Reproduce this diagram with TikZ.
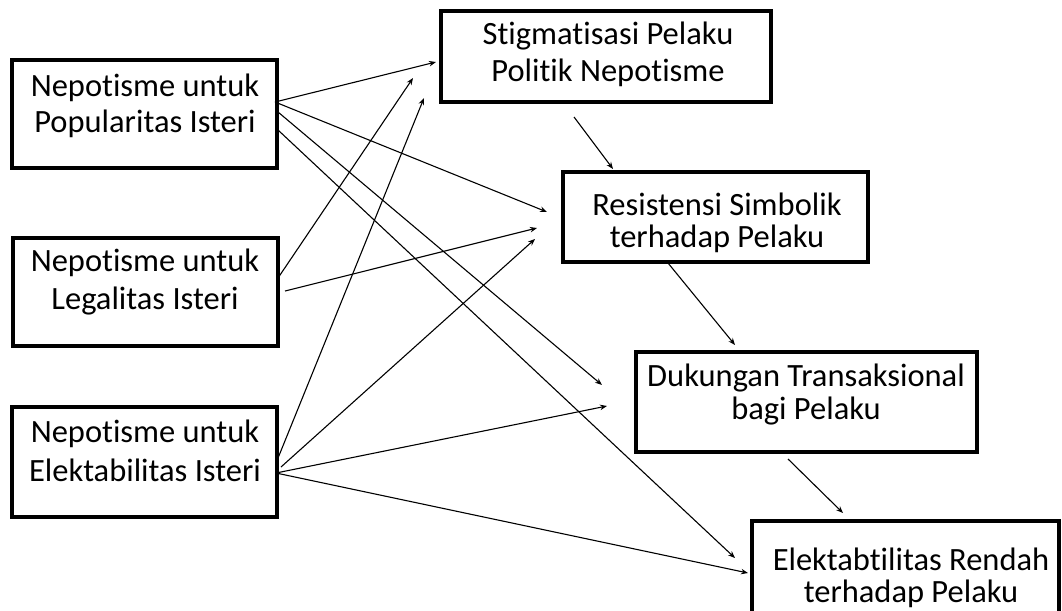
\documentclass[tikz,border=0pt]{standalone}
\usepackage{fontspec}
\setmainfont{Carlito}[Ligatures={NoCommon}]
\usetikzlibrary{arrows.meta}
\begin{document}
\begin{tikzpicture}[x=1pt,y=-1pt,
  box/.style={draw, line width=3.2pt, fill=white, inner sep=0pt},
  txt/.style={align=center, inner sep=0pt},
  fs/.style={font=\fontsize{32.5}{#1}\selectfont},
  arr/.style={-{Stealth[length=7pt,width=5.5pt]}, line width=1.1pt}]
\useasboundingbox (0,0) rectangle (1062,610);
\clip (0,0) rectangle (1062,610);
\fill[white] (0,0) rectangle (1062,610);
% boxes
\node[box, minimum width=265pt, minimum height=108pt] (a) at (144.5,114) {};
\node[box, minimum width=265pt, minimum height=108pt] (b) at (145.5,292) {};
\node[box, minimum width=265pt, minimum height=110pt] (c) at (144.5,462) {};
\node[box, minimum width=330pt, minimum height=91pt] (d) at (606,56.5) {};
\node[box, minimum width=305pt, minimum height=90pt] (e) at (715.5,217) {};
\node[box, minimum width=341pt, minimum height=100pt] (f) at (806.5,402) {};
\node[box, minimum width=307pt, minimum height=130pt] (g) at (905.5,586) {};
% texts
\node[txt, fs=36] (ta) at (145,106) {Nepotisme untuk\\Popularitas Isteri};
\node[txt, fs=38] (tb) at (145,282) {Nepotisme untuk\\Legalitas Isteri};
\node[txt, fs=39] (tc) at (145,450.5) {Nepotisme untuk\\Elektabilitas Isteri};
\node[txt, fs=37] (td) at (608,54.5) {Stigmatisasi Pelaku\\Politik Nepotisme};
\node[txt, fs=32] (te) at (717,223) {Resistensi Simbolik\\terhadap Pelaku};
\node[txt, fs=33] (tf) at (806,394.5) {Dukungan Transaksional\\bagi Pelaku};
\node[txt, fs=32] (tg) at (911,578) {Elektabtilitas Rendah\\terhadap Pelaku};
% start points
\coordinate (a1) at (275,102);
\coordinate (a2) at (278,112);
\coordinate (a3) at (278,130);
\coordinate (b1) at (278,278);
\coordinate (b2) at (285,291);
\coordinate (c1) at (276,463);
\coordinate (c2) at (281,467);
\coordinate (c3) at (276,473);
% end points
\coordinate (dA) at (436,62);
\coordinate (dB) at (413,78);
\coordinate (dC) at (424,98);
\coordinate (eA) at (547,212);
\coordinate (eB) at (537,228);
\coordinate (eC) at (535,239);
\coordinate (fA) at (602,385);
\coordinate (fC) at (607,406);
\coordinate (gA) at (735,558);
\coordinate (gC) at (748,573);
\coordinate (d0) at (574,117);
\coordinate (eD) at (613,169);
\coordinate (e0) at (668,263);
\coordinate (fE) at (735,345);
\coordinate (f0) at (788,459);
\coordinate (gF) at (843,513);
% arrows
\draw[arr] (a1) -- (dA);
\draw[arr] (a1) -- (eA);
\draw[arr] (a2) -- (fA);
\draw[arr] (a3) -- (gA);
\draw[arr] (b1) -- (dB);
\draw[arr] (b2) -- (eB);
\draw[arr] (c1) -- (dC);
\draw[arr] (c2) -- (eC);
\draw[arr] (c3) -- (fC);
\draw[arr] (c3) -- (gC);
\draw[arr] (d0) -- (eD);
\draw[arr] (e0) -- (fE);
\draw[arr] (f0) -- (gF);
\end{tikzpicture}
\end{document}
